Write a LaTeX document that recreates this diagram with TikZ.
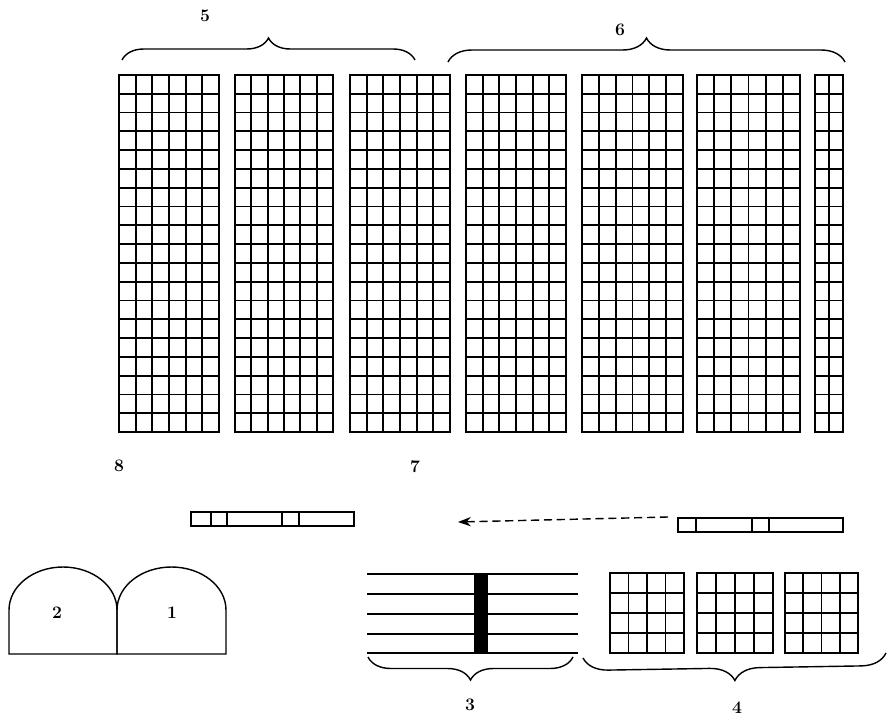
\documentclass[tikz,border=0pt]{standalone}
\usetikzlibrary{arrows.meta,decorations.pathreplacing}
\begin{document}
\begin{tikzpicture}[x=0.03cm,y=-0.03cm,
	gridline/.style={line width=1.5pt},
	outline/.style={line width=1.2pt},
	numlabel/.style={font=\fontsize{15}{17}\selectfont\bfseries},
	curly/.style={line width=1.2pt, decorate, decoration={brace, amplitude=#1}}]
	\useasboundingbox (0,0) rectangle (890,721);
	\newcommand{\cellblock}[6]{%
		\draw[gridline] (#1,#2) rectangle ++(#3,#4);
		\foreach \i in {1,...,#5}
		\draw[gridline] ({#1+\i*#3/#5},#2) -- ++(0,#4);
		\foreach \j in {1,...,#6}
		\draw[gridline] (#1,{#2+\j*#4/#6}) -- ++(#3,0);
	}
	\foreach 
	\x/\w/\n
	in
	{
		119/100/6,
		235/98/6,
		350/100/6,
		466/100/6,
		582/101/6,
		697/103/6,
		815/28/2
	}
	{
		\cellblock{\x}{75}{\w}{357}{\n}{19}
	}
	\foreach \x/\w in {610/74, 697/76, 785/73}
	{
		\cellblock{\x}{573}{\w}{80}{4}{4}
	}
	\draw[curly=0.66cm] (122,60) -- (415,60);
	\draw[curly=0.72cm] (448,62) -- (845,62);
	\node[numlabel] (lbl5) at (205,16) {5};
	\node[numlabel] (lbl6) at (620,30) {6};
	% small strips
	\draw[gridline] (191,512) rectangle (354,526);
	\foreach \d in {211,227,282,299}
		\draw[gridline] (\d,512) -- (\d,526);
	\draw[gridline] (678,518) rectangle (843,532);
	\foreach \d in {696,752,769}
		\draw[gridline] (\d,518) -- (\d,532);
	\node[numlabel] (lbl8) at (119,466) {8};
	\node[numlabel] (lbl7) at (415,467) {7};
	\coordinate (arrowtail) at (668,517);
	\coordinate (arrowtip) at (458,522);
	\draw[outline, dash pattern=on 7pt off 4pt, -{Stealth[length=11pt,width=8pt]}] (arrowtail) -- (arrowtip);
	% arches
	\draw[outline] (117,654) -- (9,654) -- (9,610) arc[start angle=180, end angle=360, x radius=54, y radius=43] -- cycle;
	\draw[outline] (117,654) -- (226,654) -- (226,610) arc[start angle=360, end angle=180, x radius=54.5, y radius=43] -- cycle;
	\node[numlabel] (lbl2) at (57,613) {2};
	\node[numlabel] (lbl1) at (172,613) {1};
	% lines with bar
	\foreach \y in {574,594,614,634,653}
		\draw[outline] (367,\y) -- (578,\y);
	\fill (474,574) rectangle (488,653);
	\draw[curly=0.69cm] (573,657) -- (368,657);
	\draw[curly=0.75cm] (886,653) -- (583,658);
	\node[numlabel] (lbl3) at (470,705) {3};
	\node[numlabel] (lbl4) at (737,708) {4};
\end{tikzpicture}
\end{document}
